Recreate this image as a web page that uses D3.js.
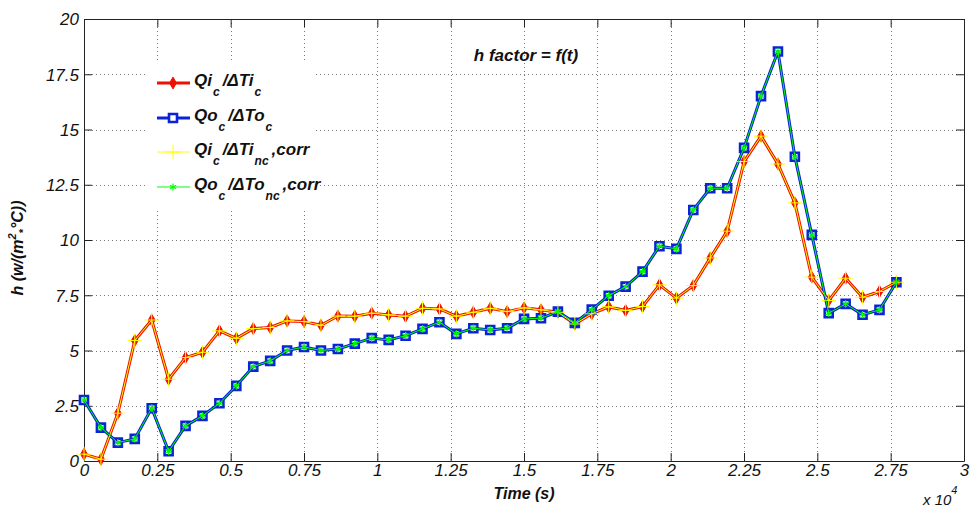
<!DOCTYPE html>
<html>
<head>
<meta charset="utf-8">
<script src="https://cdn.jsdelivr.net/npm/d3@7"></script>
<style>
  html, body { margin: 0; padding: 0; background: #fff; }
  svg { display: block; font-family: "Liberation Sans", Arial, sans-serif; }
</style>
</head>
<body>
<svg id="chart" width="971" height="507"></svg>
<script>
// ---------- data ----------
const timeS = [0, 577, 1154, 1731, 2308, 2885, 3462, 4039, 4616, 5193, 5770, 6347, 6924, 7501,
  8078, 8655, 9232, 9809, 10386, 10963, 11540, 12117, 12694, 13271, 13848, 14425, 15002, 15579,
  16156, 16733, 17310, 17887, 18464, 19041, 19618, 20195, 20772, 21349, 21926, 22503, 23080,
  23657, 24234, 24811, 25388, 25965, 26542, 27119, 27696];

const qiC = [0.31, 0.08, 2.16, 5.45, 6.38, 3.70, 4.68, 4.92, 5.89, 5.55, 5.99, 6.04, 6.34, 6.31,
  6.14, 6.56, 6.55, 6.69, 6.61, 6.55, 6.91, 6.88, 6.55, 6.73, 6.91, 6.76, 6.93, 6.84, 6.73, 6.20,
  6.66, 6.98, 6.81, 6.99, 7.97, 7.37, 7.94, 9.19, 10.40, 13.55, 14.70, 13.44, 11.68, 8.32, 7.26,
  8.27, 7.41, 7.67, 8.09];

const qoC = [2.76, 1.51, 0.83, 1.00, 2.39, 0.44, 1.59, 2.04, 2.61, 3.40, 4.27, 4.53, 5.00, 5.16,
  5.00, 5.07, 5.31, 5.56, 5.48, 5.67, 5.98, 6.28, 5.75, 6.01, 5.93, 6.01, 6.43, 6.46, 6.76, 6.25,
  6.85, 7.48, 7.89, 8.57, 9.72, 9.60, 11.36, 12.34, 12.34, 14.17, 16.51, 18.53, 13.77, 10.23,
  6.69, 7.11, 6.62, 6.84, 8.09];

// corrected series coincide with the measured ones in the picture
const qiNcCorr = [0.31, 0.08, 2.16, 5.45, 6.38, 3.70, 4.68, 4.92, 5.89, 5.55, 5.99, 6.04, 6.34, 6.31,
  6.14, 6.56, 6.55, 6.69, 6.61, 6.55, 6.91, 6.88, 6.55, 6.73, 6.91, 6.76, 6.93, 6.84, 6.73, 6.20,
  6.66, 6.98, 6.81, 6.99, 7.97, 7.37, 7.94, 9.19, 10.40, 13.55, 14.70, 13.44, 11.68, 8.32, 7.26,
  8.27, 7.41, 7.67, 8.09];

const qoNcCorr = [2.76, 1.51, 0.83, 1.00, 2.39, 0.44, 1.59, 2.04, 2.61, 3.40, 4.27, 4.53, 5.00, 5.16,
  5.00, 5.07, 5.31, 5.56, 5.48, 5.67, 5.98, 6.28, 5.75, 6.01, 5.93, 6.01, 6.43, 6.46, 6.76, 6.25,
  6.85, 7.48, 7.89, 8.57, 9.72, 9.60, 11.36, 12.34, 12.34, 14.17, 16.51, 18.53, 13.77, 10.23,
  6.69, 7.11, 6.62, 6.84, 8.09];

const xTickValues = [0, 2500, 5000, 7500, 10000, 12500, 15000, 17500, 20000, 22500, 25000, 27500, 30000];
const xTickLabels = ["0", "0.25", "0.5", "0.75", "1", "1.25", "1.5", "1.75", "2", "2.25", "2.5", "2.75", "3"];
const yTickValues = [0, 2.5, 5, 7.5, 10, 12.5, 15, 17.5, 20];
const yTickLabels = ["0", "2.5", "5", "7.5", "10", "12.5", "15", "17.5", "20"];

// ---------- layout ----------
const svg = d3.select("#chart");
const L = 84, R = 964, T = 19, B = 461;
const x = d3.scaleLinear().domain([0, 30000]).range([L, R]);
const y = d3.scaleLinear().domain([0, 20]).range([B, T]);

svg.append("rect").attr("width", 971).attr("height", 507).attr("fill", "#fff");

// grid
const grid = svg.append("g").attr("stroke", "#7a7a7a").attr("stroke-width", 1)
  .attr("stroke-dasharray", "1,3");
grid.selectAll(".gx").data(xTickValues.slice(1, -1)).join("line")
  .attr("x1", d => Math.round(x(d)) + 0.5).attr("x2", d => Math.round(x(d)) + 0.5)
  .attr("y1", T).attr("y2", B);
grid.selectAll(".gy").data(yTickValues.slice(1, -1)).join("line")
  .attr("y1", d => Math.round(y(d)) + 0.5).attr("y2", d => Math.round(y(d)) + 0.5)
  .attr("x1", L).attr("x2", R);

// axes (ticks inward on all four sides)
const tickLen = 8;
const fmtX = (d) => xTickLabels[xTickValues.indexOf(d)];
const fmtY = (d) => yTickLabels[yTickValues.indexOf(d)];

const axB = svg.append("g").attr("transform", `translate(0,${B})`)
  .call(d3.axisBottom(x).tickValues(xTickValues).tickFormat(fmtX).tickSizeInner(-tickLen).tickSizeOuter(0).tickPadding(3));
const axT = svg.append("g").attr("transform", `translate(0,${T})`)
  .call(d3.axisTop(x).tickValues(xTickValues).tickFormat("").tickSizeInner(-tickLen).tickSizeOuter(0));
const axL = svg.append("g").attr("transform", `translate(${L},0)`)
  .call(d3.axisLeft(y).tickValues(yTickValues).tickFormat(fmtY).tickSizeInner(-tickLen).tickSizeOuter(0).tickPadding(5));
const axR = svg.append("g").attr("transform", `translate(${R},0)`)
  .call(d3.axisRight(y).tickValues(yTickValues).tickFormat("").tickSizeInner(-tickLen).tickSizeOuter(0));

[axB, axT, axL, axR].forEach(a => {
  a.select(".domain").attr("stroke", "#222").attr("stroke-width", 1);
  a.selectAll(".tick line").attr("stroke", "#222");
  a.selectAll(".tick text").attr("fill", "#111").attr("font-size", 17).attr("font-style", "italic")
    .attr("font-family", "'Liberation Sans', Arial, sans-serif");
});
axB.selectAll(".tick text").attr("y", 3).attr("dy", "0.72em");
axL.selectAll(".tick text").attr("x", -5).attr("dy", "0.35em");

// ---------- series ----------
const rows = timeS.map((t, i) => ({ t, qi: qiC[i], qo: qoC[i], qic: qiNcCorr[i], qoc: qoNcCorr[i] }));

const series = [
  { key: "qi", color: "#ee1000", width: 3, symbol: d3.symbolDiamond, size: 40, fill: "#ee1000", stroke: "#ee1000", sw: 1 },
  { key: "qo", color: "#0a22d8", width: 3, symbol: d3.symbolSquare, size: 64, fill: "none", stroke: "#0a22d8", sw: 2.6 },
  { key: "qic", color: "#ffff00", width: 1, symbol: d3.symbolPlus, size: 70, fill: "none", stroke: "#ffff00", sw: 1 },
  { key: "qoc", color: "#00ff00", width: 1, symbol: d3.symbolAsterisk, size: 36, fill: "none", stroke: "#00ff00", sw: 1.2 }
];

const plot = svg.append("g");
series.forEach(s => {
  const line = d3.line().x(d => x(d.t)).y(d => y(d[s.key]));
  plot.append("path").datum(rows).attr("d", line)
    .attr("fill", "none").attr("stroke", s.color).attr("stroke-width", s.width)
    .attr("stroke-linejoin", "round");
  plot.append("g").selectAll("path").data(rows).join("path")
    .attr("transform", d => `translate(${x(d.t)},${y(d[s.key])})`)
    .attr("d", d3.symbol().type(s.symbol).size(s.size))
    .attr("fill", s.fill).attr("stroke", s.stroke).attr("stroke-width", s.sw);
});

// ---------- title ----------
svg.append("text").attr("x", 526).attr("y", 61).attr("text-anchor", "middle")
  .attr("font-size", 17).attr("font-weight", "bold").attr("font-style", "italic").attr("fill", "#111")
  .text("h factor = f(t)");

// ---------- legend ----------
const legend = svg.append("g");
legend.append("rect").attr("x", 147).attr("y", 62).attr("width", 166).attr("height", 146).attr("fill", "#fff");
const legendItems = [
  { s: series[0], y: 83, parts: [["Qi", 0], ["c", 1], ["/ΔTi", 0], ["c", 1]] },
  { s: series[1], y: 118, parts: [["Qo", 0], ["c", 1], ["/ΔTo", 0], ["c", 1]] },
  { s: series[2], y: 152, parts: [["Qi", 0], ["c", 1], ["/ΔTi", 0], ["nc", 1], [",corr", 0]] },
  { s: series[3], y: 187, parts: [["Qo", 0], ["c", 1], ["/ΔTo", 0], ["nc", 1], [",corr", 0]] }
];
legendItems.forEach(it => {
  legend.append("line").attr("x1", 157).attr("x2", 190).attr("y1", it.y).attr("y2", it.y)
    .attr("stroke", it.s.color).attr("stroke-width", it.s.width);
  legend.append("path").attr("transform", `translate(173,${it.y})`)
    .attr("d", d3.symbol().type(it.s.symbol).size(it.s.size))
    .attr("fill", it.s.key === "qo" ? "#fff" : it.s.fill).attr("stroke", it.s.stroke).attr("stroke-width", it.s.sw);
  const tx = legend.append("text").attr("x", 194).attr("y", it.y + 3)
    .attr("font-size", 17).attr("font-weight", "bold").attr("font-style", "italic").attr("fill", "#111");
  let sub = false;
  it.parts.forEach(([txt, isSub]) => {
    const ts = tx.append("tspan").text(txt);
    if (isSub && !sub) { ts.attr("dy", 10).attr("dx", 1).attr("font-size", 12); sub = true; }
    else if (isSub) { ts.attr("font-size", 12); }
    else if (!isSub && sub) { ts.attr("dy", -10).attr("dx", 3); sub = false; }
  });
});

// ---------- axis labels ----------
svg.append("text").attr("x", 524).attr("y", 499).attr("text-anchor", "middle")
  .attr("font-size", 16).attr("font-weight", "bold").attr("font-style", "italic").attr("fill", "#111")
  .text("Time (s)");

const exp = svg.append("text").attr("x", 923).attr("y", 505)
  .attr("font-size", 15).attr("font-style", "italic").attr("fill", "#111");
exp.append("tspan").text("x 10");
exp.append("tspan").attr("dy", -11).attr("font-size", 11).text("4");

const yl = svg.append("text").attr("transform", "translate(23,248) rotate(-90)").attr("text-anchor", "middle")
  .attr("font-size", 16).attr("font-weight", "bold").attr("font-style", "italic").attr("fill", "#111");
yl.append("tspan").text("h  (w/(m");
yl.append("tspan").attr("dy", -7).attr("font-size", 11).text("2");
yl.append("tspan").attr("dy", 11).attr("font-size", 11).text("*");
yl.append("tspan").attr("dy", -4).text("°C))");
</script>
</body>
</html>
